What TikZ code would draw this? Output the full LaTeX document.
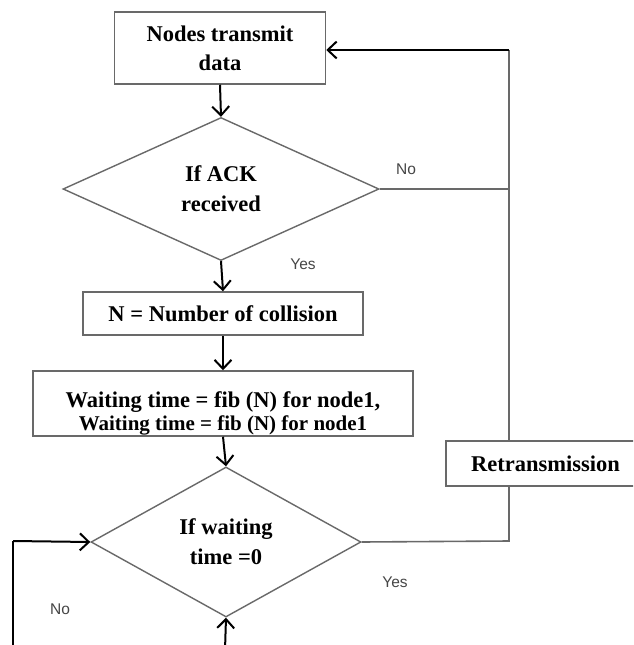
\documentclass[tikz,border=0pt]{standalone}
\usepackage{fontspec}
\setmainfont{Liberation Serif}
\newfontfamily\labfont{Liberation Sans}
\usetikzlibrary{shapes.geometric,arrows.meta}
\definecolor{edgegray}{RGB}{105,105,105}
\definecolor{labgray}{RGB}{70,70,70}
\tikzset{
  box/.style={draw=edgegray, line width=1.5pt, rectangle, inner sep=0pt, align=center,
    font=\bfseries\fontsize{22.5}{29}\selectfont},
  dia/.style={draw=edgegray, line width=1.4pt, diamond, aspect=2, inner sep=0pt, align=center,
    font=\bfseries\fontsize{22.5}{30}\selectfont},
  arr/.style={draw=black, line width=2pt, -{Straight Barb[length=9pt,width=17pt,line width=2pt]}},
  plain/.style={draw=edgegray, line width=1.6pt},
  blk/.style={draw=black, line width=2pt},
  lab/.style={font=\labfont\fontsize{15.5}{18}\selectfont, text=labgray, inner sep=0pt}
}
\begin{document}
\begin{tikzpicture}[x=1pt,y=-1pt]
\useasboundingbox (0,0) rectangle (633,645);
\clip (0,0) rectangle (633,645);
\fill[white] (0,0) rectangle (633,645);

\node[box, minimum width=211pt, minimum height=72pt] (box1) at (220,48) {Nodes transmit\\data};
\node[dia, minimum width=316pt, minimum height=143pt] (dia1) at (221,189) {If ACK\\received};
\node[box, minimum width=280pt, minimum height=43pt] (box2) at (223,313.5) {N = Number of collision};
\node[box, minimum width=380pt, minimum height=65pt] (box3) at (223,403.5)
  {\rule{0pt}{36pt}Waiting time = fib (N) for node1,\\[-6pt]{\fontsize{21}{20}\selectfont Waiting time = fib (N) for node1}};
\node[dia, minimum width=270pt, minimum height=150pt] (dia2) at (226,542) {If waiting\\time =0};
\node[box, minimum width=199pt, minimum height=45pt] (retr) at (545.5,463.5) {Retransmission};

\coordinate (jtop) at (509,50);
\coordinate (jmid) at (509,189);
\coordinate (jbot) at (509,541);
\coordinate (lbot) at (13,650);
\coordinate (ltop) at (13,541);
\coordinate (bbot) at (225,650);

\draw[arr] (box1.south) -- (dia1.north);
\draw[arr] (dia1.south) -- (box2.north);
\draw[arr] (box2.south) -- (box3.north);
\draw[arr] (box3.south) -- (dia2.north);

\draw[plain] (dia1.east) -- (jmid);
\draw[plain] (jtop |- retr.north) -- (jtop);
\draw[arr] (jtop) -- (jtop -| box1.east);
\draw[plain] (dia2.east) -- (jbot) -- (jbot |- retr.south);

\draw[blk] (lbot) -- (ltop);
\draw[arr] (ltop) -- (dia2.west);
\draw[arr] (bbot) -- (dia2.south);

\node[lab] (no1) at (406,169) {No};
\node[lab] (yes1) at (303,264) {Yes};
\node[lab] (yes2) at (395,582) {Yes};
\node[lab] (no2) at (60,609) {No};
\end{tikzpicture}
\end{document}
